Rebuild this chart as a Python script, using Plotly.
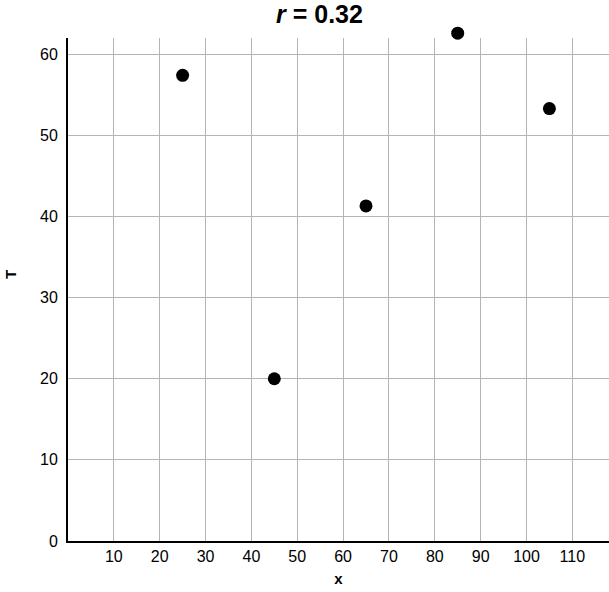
import plotly.graph_objects as go

x_vals = [25, 45, 65, 85, 105]
t_vals = [57.4, 20.0, 41.3, 62.6, 53.3]
x_ticks = [10, 20, 30, 40, 50, 60, 70, 80, 90, 100, 110]
y_ticks = [0, 10, 20, 30, 40, 50, 60]

X_RANGE = [0, 118]
Y_RANGE = [0, 62]

W, H = 609, 592
M_L, M_R, M_T, M_B = 68, 0, 25, 51
plot_w = W - M_L - M_R
plot_h = H - M_T - M_B
main_h = 541 - 38  # height of the gridded area in px
dom_top = main_h / plot_h
y2_top = Y_RANGE[1] * plot_h / main_h

fig = go.Figure()
# scatter on an invisible twin axis that shares the same scale but is taller,
# so the marker above the grid area is not clipped
fig.add_trace(go.Scatter(
    x=x_vals, y=t_vals, mode="markers", xaxis="x2", yaxis="y2",
    marker=dict(color="black", size=13),
    cliponaxis=False, showlegend=False,
))
fig.add_trace(go.Scatter(x=[None], y=[None], mode="markers", showlegend=False, hoverinfo="skip"))

fig.update_layout(
    width=W, height=H,
    margin=dict(l=M_L, r=M_R, t=M_T, b=M_B),
    paper_bgcolor="white", plot_bgcolor="rgba(0,0,0,0)",
    font=dict(family="Liberation Sans, Arial, sans-serif", size=16, color="black"),
    title=dict(text="<b><i>r</i> = 0.32</b>", x=319.5 / W, xanchor="center",
               y=1 - 14.5 / H, yanchor="middle", font=dict(size=25)),
    xaxis=dict(
        range=X_RANGE, tickvals=x_ticks, showgrid=True, gridcolor="#b4b4b4", gridwidth=1,
        showline=True, linecolor="black", linewidth=2, zeroline=False, ticks="",
        domain=[0, 1], anchor="y",
        title=dict(text="<b>x</b>", font=dict(size=15), standoff=9),
    ),
    yaxis=dict(
        range=Y_RANGE, tickvals=y_ticks, showgrid=True, gridcolor="#b4b4b4", gridwidth=1,
        showline=True, linecolor="black", linewidth=2, zeroline=False, ticks="",
        domain=[0, dom_top], anchor="x", ticklabelstandoff=5,
    ),
    xaxis2=dict(range=X_RANGE, domain=[0, 1], anchor="y2", visible=False,
                showgrid=False, zeroline=False),
    yaxis2=dict(range=[0, y2_top], domain=[0, 1], anchor="x2", visible=False,
                showgrid=False, zeroline=False),
    annotations=[dict(
        text="<b>T</b>", textangle=-90, showarrow=False,
        xref="paper", yref="paper",
        x=(10 - M_L) / plot_w, y=(541 - 275) / plot_h,
        xanchor="center", yanchor="middle", font=dict(size=15),
    )],
)

fig.write_html(
    "out.html",
    config={"displayModeBar": False},
    post_script="document.body.style.margin='0';document.body.style.overflow='hidden';",
)
